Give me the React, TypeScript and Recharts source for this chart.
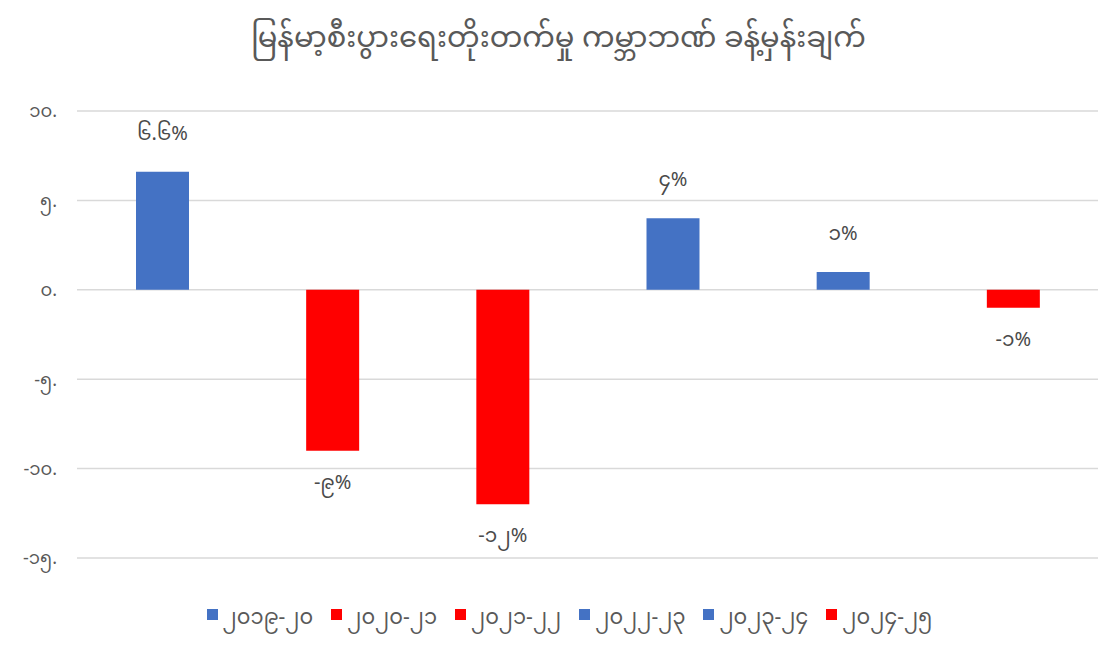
import React from "react";
import { BarChart, Bar, XAxis, YAxis, CartesianGrid, Cell, LabelList, Legend } from "recharts";

const TITLE = "မြန်မာ့စီးပွားရေးတိုးတက်မှု ကမ္ဘာဘဏ် ခန့်မှန်းချက်";

const periods = ["၂၀၁၉-၂၀", "၂၀၂၀-၂၁", "၂၀၂၁-၂၂", "၂၀၂၂-၂၃", "၂၀၂၃-၂၄", "၂၀၂၄-၂၅"];
const growth = [6.6, -9, -12, 4, 1, -1];
const yTicks = [-15, -10, -5, 0, 5, 10];

const BLUE = "#4472C4";
const RED = "#FF0000";
const FONT = "'Myanmar Text', 'Noto Sans Myanmar', Padauk, 'Noto Sans', sans-serif";

const data = periods.map((period, i) => ({ period, growth: growth[i] }));

// ascii digits -> myanmar digits
const toMy = (s: string) => s.replace(/[0-9]/g, (d) => String.fromCharCode(0x1040 + Number(d)));

const colorOf = (v: number) => (v >= 0 ? BLUE : RED);

const ValueLabel = (props: any) => {
    const { x, y, width, height, value } = props;
    const top = Math.min(y, y + height);
    const bottom = Math.max(y, y + height);
    const cx = x + width / 2;
    const ty = value >= 0 ? top - 32 : bottom + 38;
    return (
        <text x={cx} y={ty} textAnchor="middle" fill="#4a4a4a" fontSize={20} fontFamily={FONT}>
            {toMy(String(value)) + "%"}
        </text>
    );
};

const LegendContent = () => (
    <div
        style={{
            display: "flex",
            justifyContent: "center",
            gap: 18,
            paddingLeft: 22,
            fontFamily: FONT,
            fontSize: 21,
            color: "#595959",
        }}
    >
        {data.map((d) => (
            <div key={d.period} style={{ display: "flex", alignItems: "center" }}>
                <span
                    style={{
                        width: 11,
                        height: 11,
                        background: colorOf(d.growth),
                        marginRight: 5,
                        display: "inline-block",
                        position: "relative",
                        top: -5,
                    }}
                />
                <span>{d.period}</span>
            </div>
        ))}
    </div>
);

const App = () => {
    return (
        <div style={{ position: "absolute", left: 0, top: 0, width: 1117, height: 649, background: "#fff" }}>
            <div
                style={{
                    position: "absolute",
                    top: 9,
                    left: 0,
                    width: 1117,
                    textAlign: "center",
                    fontFamily: FONT,
                    fontSize: 29,
                    color: "#595959",
                }}
            >
                {TITLE}
            </div>
            <BarChart width={1117} height={649} data={data} margin={{ top: 111, right: 19, left: 7, bottom: 91 }}>
                <CartesianGrid vertical={false} stroke="#D9D9D9" strokeWidth={1.5} />
                <XAxis dataKey="period" hide />
                <YAxis
                    width={70}
                    domain={[-15, 10]}
                    ticks={yTicks}
                    axisLine={false}
                    tickLine={false}
                    tickSize={0}
                    tickMargin={20}
                    tick={{ fill: "#595959", fontSize: 18, fontFamily: FONT }}
                    tickFormatter={(v: number) => toMy(String(v)) + "."}
                />
                <Legend
                    verticalAlign="middle"
                    content={<LegendContent />}
                    wrapperStyle={{ top: 596, left: 0, width: 1117 }}
                />
                <Bar dataKey="growth" barSize={53} isAnimationActive={false}>
                    {data.map((d) => (
                        <Cell key={d.period} fill={colorOf(d.growth)} />
                    ))}
                    <LabelList dataKey="growth" content={<ValueLabel />} />
                </Bar>
            </BarChart>
        </div>
    );
};

export default App;
